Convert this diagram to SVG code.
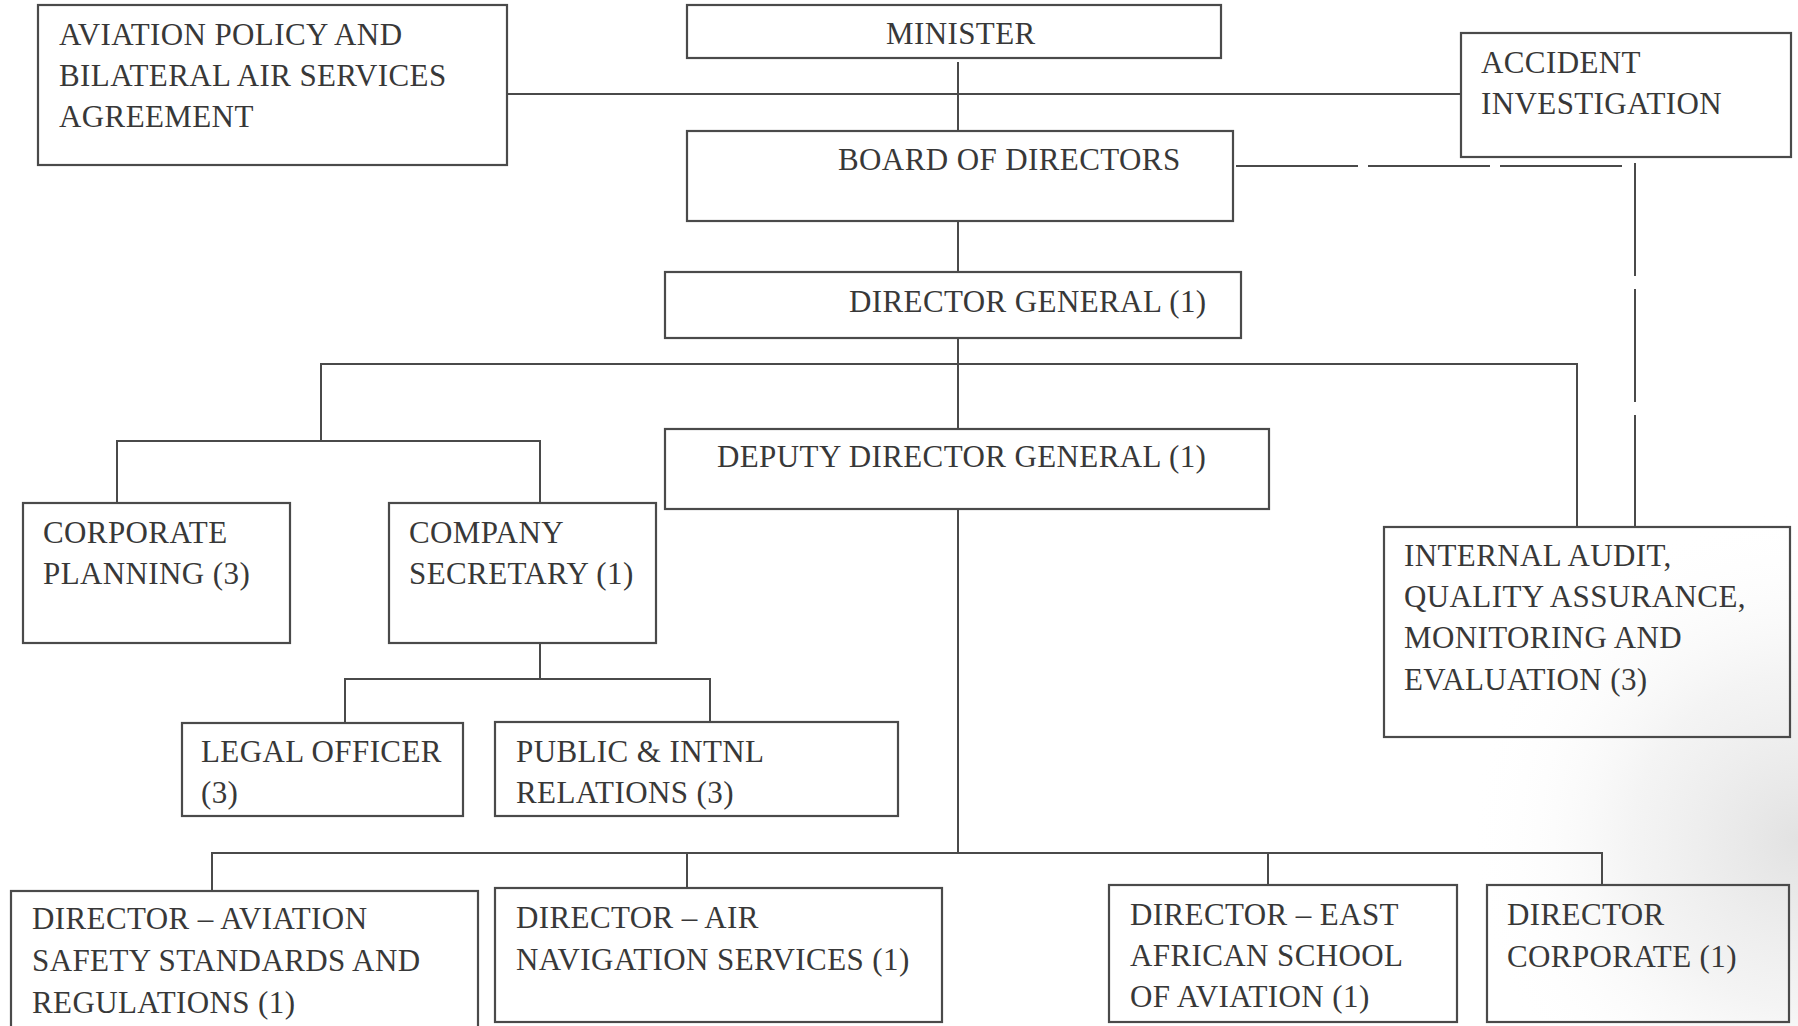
<svg xmlns="http://www.w3.org/2000/svg" width="1798" height="1026" viewBox="0 0 1798 1026">
<style>
.box{fill:none;stroke:#4a4a4a;stroke-width:2.2}
.ln{fill:none;stroke:#4a4a4a;stroke-width:2}
.dh{fill:none;stroke:#4a4a4a;stroke-width:2;stroke-dasharray:122 10}
.dv{fill:none;stroke:#4a4a4a;stroke-width:2;stroke-dasharray:113 13}
text{font-family:"Liberation Serif","Times New Roman",serif;font-size:31px;letter-spacing:0.4px;fill:#383838}
</style>
<defs>
<radialGradient id="shade" cx="1798" cy="840" r="330" gradientUnits="userSpaceOnUse">
<stop offset="0" stop-color="#e2e2e2"/>
<stop offset="0.5" stop-color="#efefef" stop-opacity="0.7"/>
<stop offset="1" stop-color="#ffffff" stop-opacity="0"/>
</radialGradient>
</defs>
<rect width="1798" height="1026" fill="#ffffff"/>
<rect width="1798" height="1026" fill="url(#shade)"/>

<g id="connectors">
<line class="ln" x1="507" y1="94" x2="1461" y2="94"/>
<line class="ln" x1="958" y1="62" x2="958" y2="131"/>
<line class="ln" x1="958" y1="221" x2="958" y2="272"/>
<path class="dh" d="M1236 166 H1623"/>
<path class="dv" d="M1635 163 V527"/>
<line class="ln" x1="958" y1="338" x2="958" y2="429"/>
<path class="ln" d="M321 441 V364 H1577 V527"/>
<path class="ln" d="M117 503 V441 H540 V503"/>
<line class="ln" x1="540" y1="643" x2="540" y2="679"/>
<path class="ln" d="M345 723 V679 H710 V722"/>
<line class="ln" x1="958" y1="509" x2="958" y2="852"/>
<path class="ln" d="M212 891 V853 H1602 V885"/>
<line class="ln" x1="687" y1="853" x2="687" y2="888"/>
<line class="ln" x1="1268" y1="853" x2="1268" y2="885"/>
</g>

<g id="aviation-policy">
<rect class="box" x="38" y="5" width="469" height="160"/>
<text x="59" y="45">AVIATION POLICY AND</text>
<text x="59" y="86">BILATERAL AIR SERVICES</text>
<text x="59" y="127">AGREEMENT</text>
</g>
<g id="minister">
<rect class="box" x="687" y="5" width="534" height="53"/>
<text x="886" y="44">MINISTER</text>
</g>
<g id="accident-investigation">
<rect class="box" x="1461" y="33" width="330" height="124"/>
<text x="1481" y="73">ACCIDENT</text>
<text x="1481" y="114">INVESTIGATION</text>
</g>
<g id="board">
<rect class="box" x="687" y="131" width="546" height="90"/>
<text x="838" y="170">BOARD OF DIRECTORS</text>
</g>
<g id="director-general">
<rect class="box" x="665" y="272" width="576" height="66"/>
<text x="849" y="312">DIRECTOR GENERAL (1)</text>
</g>
<g id="deputy-director-general">
<rect class="box" x="665" y="429" width="604" height="80"/>
<text x="717" y="467">DEPUTY DIRECTOR GENERAL (1)</text>
</g>
<g id="corporate-planning">
<rect class="box" x="23" y="503" width="267" height="140"/>
<text x="43" y="543">CORPORATE</text>
<text x="43" y="584">PLANNING (3)</text>
</g>
<g id="company-secretary">
<rect class="box" x="389" y="503" width="267" height="140"/>
<text x="409" y="543">COMPANY</text>
<text x="409" y="584">SECRETARY (1)</text>
</g>
<g id="internal-audit">
<rect class="box" x="1384" y="527" width="406" height="210"/>
<text x="1404" y="566">INTERNAL AUDIT,</text>
<text x="1404" y="607">QUALITY ASSURANCE,</text>
<text x="1404" y="648">MONITORING AND</text>
<text x="1404" y="690">EVALUATION (3)</text>
</g>
<g id="legal-officer">
<rect class="box" x="182" y="723" width="281" height="93"/>
<text x="201" y="762">LEGAL OFFICER</text>
<text x="201" y="803">(3)</text>
</g>
<g id="public-relations">
<rect class="box" x="495" y="722" width="403" height="94"/>
<text x="516" y="762">PUBLIC &amp; INTNL</text>
<text x="516" y="803">RELATIONS (3)</text>
</g>
<g id="director-assr">
<rect class="box" x="11" y="891" width="467" height="145"/>
<text x="32" y="929">DIRECTOR – AVIATION</text>
<text x="32" y="971">SAFETY STANDARDS AND</text>
<text x="32" y="1013">REGULATIONS (1)</text>
</g>
<g id="director-ans">
<rect class="box" x="495" y="888" width="447" height="134"/>
<text x="516" y="928">DIRECTOR – AIR</text>
<text x="516" y="970">NAVIGATION SERVICES (1)</text>
</g>
<g id="director-easa">
<rect class="box" x="1109" y="885" width="348" height="137"/>
<text x="1130" y="925">DIRECTOR – EAST</text>
<text x="1130" y="966">AFRICAN SCHOOL</text>
<text x="1130" y="1007">OF AVIATION (1)</text>
</g>
<g id="director-corporate">
<rect class="box" x="1487" y="885" width="302" height="137"/>
<text x="1507" y="925">DIRECTOR</text>
<text x="1507" y="967">CORPORATE (1)</text>
</g>
</svg>
